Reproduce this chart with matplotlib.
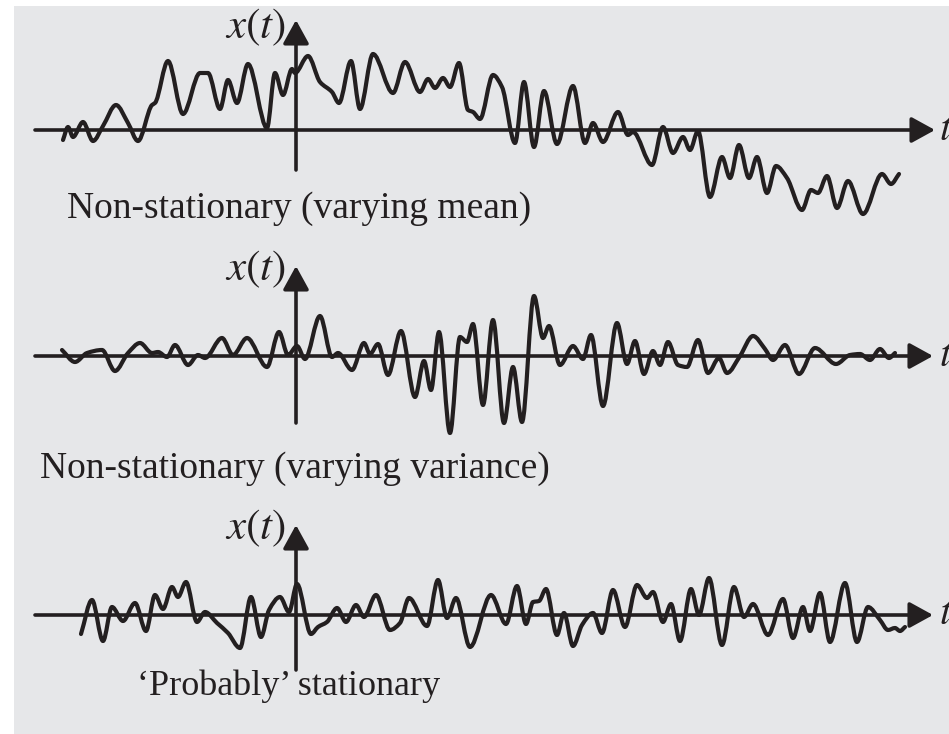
import numpy as np
import matplotlib.pyplot as plt
from matplotlib.path import Path
from matplotlib.patches import PathPatch, Rectangle

plt.rcParams['mathtext.fontset'] = 'stix'
plt.rcParams['font.family'] = ['Liberation Serif', 'DejaVu Serif']

# time samples (origin at the x(t) axis) and signal values
t_mean = [-233, -228, -223, -213, -203, -193, -180, -168, -158, -144, -141, -128, -113, -96, -88,
          -76, -68, -59, -48, -29, -21, -13, -4, -1, 12, 24, 36, 43, 55, 64,
          77, 97, 109, 124, 132, 139, 147, 154, 163, 172, 177, 184, 197, 206, 219,
          228, 238, 248, 261, 277, 289, 297, 307, 322, 332, 337, 356, 367, 377, 387,
          394, 402, 414, 426, 434, 443, 453, 461, 471, 480, 491, 506, 515, 522, 531,
          541, 552, 567, 586, 595, 603]
x_mean = [-10, 3, -7, 8, -11, 4, 25, 7, -11, 25, 27, 69, 16, 57, 57,
          21, 50, 27, 66, 2, 57, 35, 61, 57, 74, 48, 38, 27, 69, 21,
          76, 37, 68, 38, 51, 42, 52, 43, 67, 20, 18, 11, 55, 43, -13,
          48, -17, 39, -14, 44, -13, 7, -12, 18, -5, -2, -35, 3, -23, -7,
          -20, -1, -67, -27, -48, -15, -48, -27, -63, -36, -48, -80, -60, -63, -46,
          -78, -51, -84, -44, -54, -44]

t_var = [-234, -221, -209, -194, -181, -168, -156, -144, -138, -129, -121, -108, -98, -91, -74,
         -63, -49, -29, -17, -8, 1, 9, 24, 36, 42, 56, 68, 74, 82, 92,
         105, 119, 128, 135, 143, 154, 164, 171, 177, 187, 197, 208, 217, 226, 238,
         247, 253, 264, 277, 287, 295, 307, 321, 331, 339, 348, 357, 364, 372, 382,
         391, 402, 412, 423, 431, 444, 457, 469, 477, 489, 503, 519, 540, 554, 564,
         574, 584, 593, 599]
x_var = [6, -6, 3, 6, -15, 3, 13, 3, 4, -1, 11, -9, 1, -2, 18,
         1, 18, -11, 24, 1, 10, -3, 40, -1, 3, -14, 13, 2, 12, -19,
         25, -41, -5, -34, 24, -77, 19, 14, 32, -49, 36, -67, -11, -66, 60,
         18, 30, -9, 10, -3, 21, -50, 33, -8, 15, -18, 5, -9, 14, -9,
         -11, 16, -17, -2, -17, 0, 20, 7, -4, 11, -18, 8, -8, 1, 2,
         -4, 7, -2, 3]

t_stat = [-215, -204, -193, -184, -173, -161, -150, -141, -133, -124, -118, -110, -99, -91, -79,
          -68, -56, -45, -35, -27, -16, -7, 1, 15, 22, 31, 41, 50, 60, 68,
          80, 94, 104, 113, 131, 142, 151, 160, 174, 195, 210, 221, 230, 237, 243,
          250, 261, 268, 277, 286, 297, 306, 317, 329, 341, 351, 357, 367, 375, 384,
          395, 403, 413, 426, 438, 448, 457, 472, 487, 497, 507, 514, 524, 534, 549,
          561, 572, 584, 592, 599, 604, 609]
x_stat = [-19, 15, -26, 8, -6, 12, -16, 20, 6, 28, 18, 33, -7, 3, -8,
          -18, -33, 18, -22, 5, 18, 3, 31, -19, -12, -7, 7, -7, 10, -2,
          20, -15, -8, 17, -11, 35, -3, 17, -32, 20, -9, 29, -9, 13, 14,
          26, -20, 2, -31, -10, 2, -18, 25, -12, 30, 17, 23, -7, 11, -26,
          26, 0, 37, -30, 28, -2, 11, -20, 16, -23, 8, -16, 22, -27, 32,
          -27, 8, -5, -15, -13, -16, -12]

labels = ['Non-stationary (varying mean)',
          'Non-stationary (varying variance)',
          '\u2018Probably\u2019 stationary']

INK = '#231f20'
BG = '#e6e7e9'
W, H = 949, 734


def smooth_path(t, x):
    # cubic Bezier through the read points, flat at turning points
    t = np.asarray(t, float)
    x = np.asarray(x, float)
    h = np.diff(t)
    d = np.diff(x) / h
    m = np.zeros_like(x)
    m[0], m[-1] = d[0], d[-1]
    for i in range(1, len(x) - 1):
        if d[i - 1] * d[i] > 0:
            w1 = 2 * h[i] + h[i - 1]
            w2 = h[i] + 2 * h[i - 1]
            m[i] = (w1 + w2) / (w1 / d[i - 1] + w2 / d[i])
    verts = [(t[0], x[0])]
    codes = [Path.MOVETO]
    for i in range(len(h)):
        verts += [(t[i] + h[i] / 3, x[i] + m[i] * h[i] / 3),
                  (t[i + 1] - h[i] / 3, x[i + 1] - m[i + 1] * h[i] / 3),
                  (t[i + 1], x[i + 1])]
        codes += [Path.CURVE4] * 3
    return Path(verts, codes)


fig = plt.figure(figsize=(W / 100, H / 100), dpi=100, facecolor='white')
fig.patches.append(Rectangle((14 / W, 0), 1, (H - 6) / H, transform=fig.transFigure,
                             facecolor=BG, edgecolor='none', zorder=-5))

# axis_y (px), half height, series, label, label x, label baseline, vertical axis bottom/top, t-axis tip
panels = [
    (130, 115, t_mean, x_mean, labels[0], 67, -88, -40, 110, 639, 92, 27),
    (356, 110, t_var, x_var, labels[1], 40, -122, -67, 90, 637, 76, 27),
    (615, 110, t_stat, x_stat, labels[2], 137, -80, -55, 90, 637, 76, 26),
]

for y0, hh, ts, xs, lab, lx, lby, vb, vt, tip, xlab, fs in panels:
    ax = fig.add_axes([0, 1 - (y0 + hh) / H, 1, 2 * hh / H])
    ax.set_xlim(-296, W - 296)
    ax.set_ylim(-hh, hh)
    ax.axis('off')
    ax.patch.set_visible(False)

    arrow = dict(arrowstyle='-|>,head_length=0.4,head_width=0.22', lw=2.6,
                 color=INK, shrinkA=0, shrinkB=0, mutation_scale=36)
    ax.annotate('', xy=(tip, 0), xytext=(35 - 296, 0), arrowprops=arrow)
    ax.annotate('', xy=(0, vt), xytext=(0, vb), arrowprops=arrow)

    ax.add_patch(PathPatch(smooth_path(ts, xs), facecolor='none', edgecolor=INK,
                           lw=3.0, capstyle='round', joinstyle='round', zorder=3))

    ax.text(-10, xlab, '$x(t)$', ha='right', va='baseline', fontsize=31, color=INK)
    ax.text(643, 0, '$t$', ha='left', va='center', fontsize=29, color=INK)
    ax.text(lx - 296, lby, lab, ha='left', va='baseline', fontsize=fs, color=INK)

fig.savefig('out.png', dpi=100, facecolor=fig.get_facecolor())
